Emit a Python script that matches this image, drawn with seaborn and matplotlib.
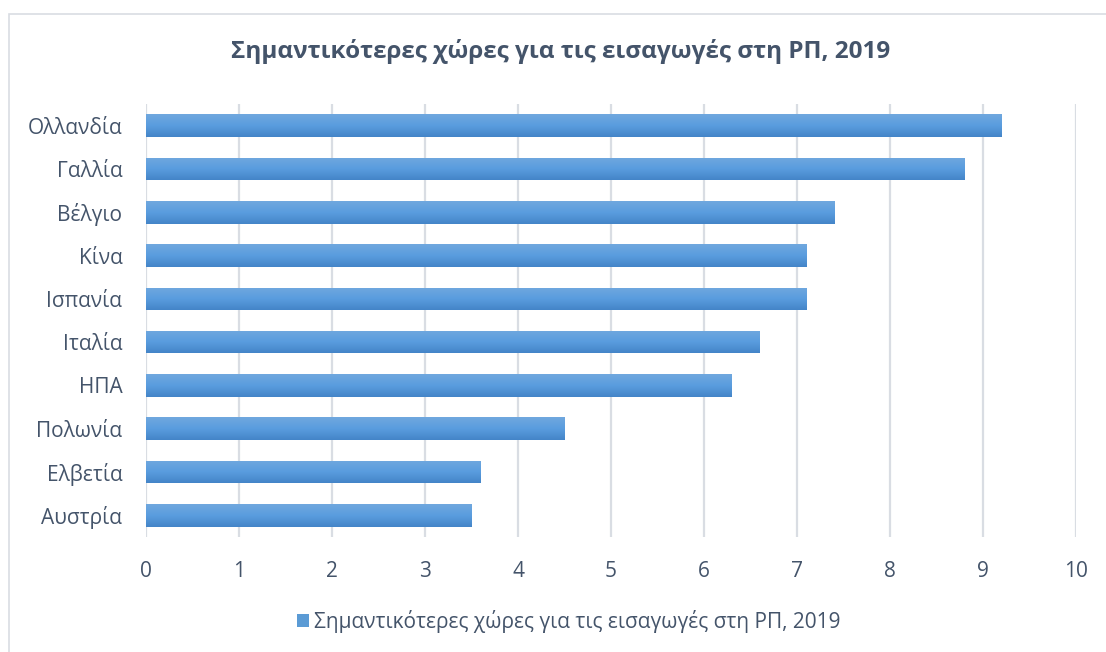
import numpy as np
import pandas as pd
import matplotlib
matplotlib.use("Agg")
import matplotlib.pyplot as plt
import seaborn as sns
from matplotlib.colors import LinearSegmentedColormap
from matplotlib.patches import Rectangle

countries = ["Ολλανδία", "Γαλλία", "Βέλγιο", "Κίνα", "Ισπανία",
             "Ιταλία", "ΗΠΑ", "Πολωνία", "Ελβετία", "Αυστρία"]
values = [9.2, 8.8, 7.4, 7.1, 7.1, 6.6, 6.3, 4.5, 3.6, 3.5]
x_ticks = [0, 1, 2, 3, 4, 5, 6, 7, 8, 9, 10]
series_name = "Σημαντικότερες χώρες για τις εισαγωγές στη ΡΠ, 2019"
title = "Σημαντικότερες χώρες για τις εισαγωγές στη ΡΠ, 2019"

df = pd.DataFrame({"country": countries, "value": values})

sns.set_theme(style="white")
plt.rcParams["font.family"] = ["Open Sans", "DejaVu Sans"]

text_col = "#44546A"
fig = plt.figure(figsize=(11.06, 6.52), dpi=100)
ax = fig.add_axes([0.132, 0.1764, 0.841, 0.6641])

sns.barplot(data=df, y="country", x="value", orient="h", color="#5B9BD5",
            width=0.52, ax=ax, saturation=1, label=series_name, legend=False)

# gradient fill on each bar
cmap = LinearSegmentedColormap.from_list("g", ["#70A8DE", "#5A9DDF", "#4485C8"])
grad = np.linspace(0, 1, 64).reshape(-1, 1)
for p in ax.patches:
    x0, y0 = p.get_x(), p.get_y()
    w, h = p.get_width(), p.get_height()
    im = ax.imshow(grad, cmap=cmap, aspect="auto",
                   extent=[x0, x0 + w, y0 + h, y0], origin="upper", zorder=3)
    im.set_clip_path(p)
    p.set_edgecolor("none")

ax.set_xlim(0, 10)
ax.set_ylim(len(countries) - 0.5, -0.5)
ax.set_xticks(x_ticks)
ax.set_xticklabels([str(t) for t in x_ticks])
ax.xaxis.grid(True, color="#D9DDE3", linewidth=1.6)
ax.yaxis.grid(False)
ax.set_axisbelow(True)
for s in ax.spines.values():
    s.set_visible(False)
ax.tick_params(axis="both", length=0, labelsize=15, labelcolor=text_col)
ax.tick_params(axis="y", pad=17)
ax.tick_params(axis="x", pad=17)
ax.set_xlabel("")
ax.set_ylabel("")

fig.suptitle(title, x=0.507, y=0.921, va="center", fontsize=17.5,
             fontweight="bold", color=text_col)

handle = Rectangle((0, 0), 1, 1, facecolor="#5B9BD5", edgecolor="none")
fig.legend([handle], [series_name], loc="center", bbox_to_anchor=(0.514, 0.047),
           frameon=False, fontsize=15, labelcolor=text_col, handlelength=0.6,
           handleheight=0.6, handletextpad=0.2)

fig.patches.append(Rectangle((9 / 1106, -0.01), 1.0, 1 - 14 / 652 + 0.01,
                             transform=fig.transFigure, fill=False,
                             edgecolor="#D9DDE3", linewidth=1.2))

fig.savefig("out.png", dpi=100, facecolor="white")
